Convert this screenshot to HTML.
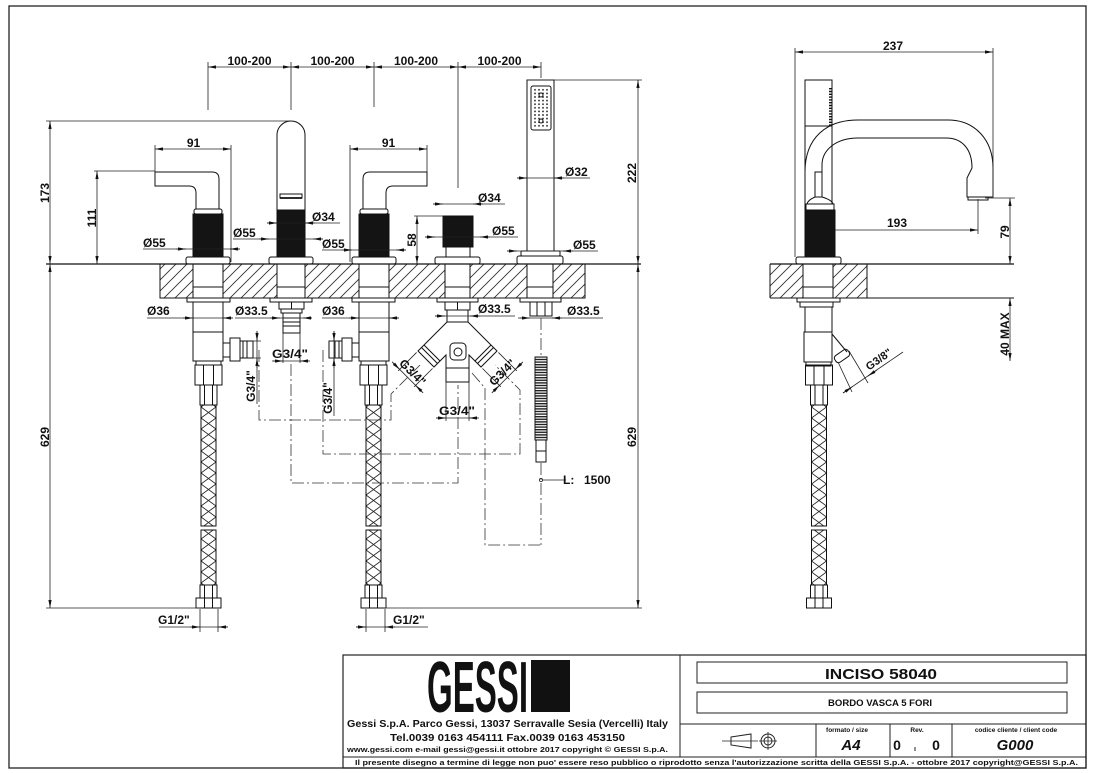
<!DOCTYPE html>
<html><head><meta charset="utf-8">
<style>
html,body{margin:0;padding:0;background:#fff;width:1097px;height:773px;overflow:hidden}
svg{display:block}
text{font-family:"Liberation Sans",Arial,sans-serif;font-weight:bold;fill:#111;stroke:none;font-size:12px}
.dd{marker-start:url(#ar);marker-end:url(#ar)}
.de{marker-end:url(#ar)}
</style></head><body>
<svg xmlns="http://www.w3.org/2000/svg" xmlns:xlink="http://www.w3.org/1999/xlink" width="1097" height="773" viewBox="0 0 1097 773">
<defs>
<marker id="ar" viewBox="0 0 8 4" refX="8" refY="2" markerWidth="8" markerHeight="4" markerUnits="userSpaceOnUse" orient="auto-start-reverse"><path d="M0,0.4L8,2L0,3.6Z" fill="#111" stroke="none"/></marker>
<pattern id="hatch" width="11" height="11" patternUnits="userSpaceOnUse"><path d="M-1,1L1,-1M0,11L11,0M10,12L12,10" stroke="#333" stroke-width="0.9" fill="none"/></pattern>
<pattern id="braid" x="-7.5" y="0" width="15" height="11" patternUnits="userSpaceOnUse"><path d="M0,0L15,11M15,0L0,11" stroke="#222" stroke-width="0.9" fill="none"/></pattern>
<pattern id="spiral" width="14" height="2.6" patternUnits="userSpaceOnUse"><rect width="14" height="1.4" fill="#222"/></pattern>
<pattern id="dots" x="533" y="88" width="4" height="3.6" patternUnits="userSpaceOnUse"><circle cx="2" cy="1.8" r="0.9" fill="#222"/></pattern>
<g id="hose" fill="none" stroke="#111" stroke-width="1">
 <rect x="-13.5" y="365" width="27" height="20"/>
 <path d="M-5,365V385M5,365V385"/>
 <rect x="-8.5" y="385" width="17" height="20"/>
 <path d="M-4,385V405M4,385V405"/>
 <rect x="-7.5" y="405" width="15" height="121" fill="url(#braid)"/>
 <rect x="-7.5" y="530" width="15" height="55" fill="url(#braid)"/>
 <rect x="-8.5" y="585" width="17" height="13"/>
 <path d="M-4,585V598M4,585V598"/>
 <rect x="-12.5" y="598" width="25" height="10"/>
 <path d="M-4,598V608M4,598V608"/>
</g>
<g id="mixB" fill="none" stroke="#111" stroke-width="1">
 <rect x="187" y="298" width="43" height="4"/>
 <rect x="193" y="302" width="30" height="59"/>
 <line x1="193" y1="332" x2="223" y2="332"/>
 <rect x="223" y="343" width="7" height="14"/>
 <rect x="230" y="338" width="10" height="23"/>
 <rect x="240" y="341" width="13" height="17"/>
 <path d="M243,341V358M247,341V358"/>
 <rect x="196" y="361" width="25" height="4"/>
 <use xlink:href="#hose" href="#hose" transform="translate(208.5,0)"/>
</g>
<g id="mixA" fill="none" stroke="#111" stroke-width="1">
 <path d="M155,172H212Q219,172 219,179V209H196V193Q196,186 189,186H155Z"/>
 <rect x="194" y="209" width="28" height="5" rx="2"/>
 <rect x="193" y="214" width="30" height="43" fill="#141414"/>
 <rect x="186" y="257" width="44" height="7" rx="2"/>
</g>
</defs>

<rect width="1097" height="773" fill="#fff"/>

<!-- frame -->
<rect x="9" y="6" width="1077" height="762" fill="none" stroke="#222" stroke-width="1.3"/>

<!-- decks -->
<rect x="160" y="264" width="425" height="34" fill="url(#hatch)"/>
<rect x="770" y="264" width="97" height="34" fill="url(#hatch)"/>
<g fill="#fff" stroke="none">
<rect x="193" y="264.5" width="30" height="33"/>
<rect x="277" y="264.5" width="28" height="33"/>
<rect x="359" y="264.5" width="30" height="33"/>
<rect x="445" y="264.5" width="25" height="33"/>
<rect x="527" y="264.5" width="26" height="33"/>
<rect x="803" y="264.5" width="30" height="33"/>
</g>

<g fill="none" stroke="#111" stroke-width="1">
<line x1="46" y1="264" x2="641" y2="264" stroke-width="1.2"/>
<path d="M160,264V298H585V264"/>
<path d="M193,264V298M223,264V298M193,287H223"/>
<path d="M277,264V298M305,264V298M277,287H305"/>
<path d="M359,264V298M389,264V298M359,287H389"/>
<path d="M445,264V298M470,264V298M445,287H470"/>
<path d="M527,264V298M553,264V298M527,287H553"/>
<line x1="770" y1="264" x2="1014" y2="264" stroke-width="1.2"/>
<line x1="770" y1="298" x2="1014" y2="298"/>
<path d="M770,264V298M867,264V298M803,264V298M833,264V298M803,287H833"/>

<!-- mixers above -->
<use xlink:href="#mixA" href="#mixA"/>
<use xlink:href="#mixA" href="#mixA" transform="matrix(-1,0,0,1,582,0)"/>
<!-- mixers below -->
<use xlink:href="#mixB" href="#mixB"/>
<use xlink:href="#mixB" href="#mixB" transform="matrix(-1,0,0,1,582,0)"/>

<!-- spout -->
<path d="M277,210V135A14,14 0 0 1 305,135V210"/>
<rect x="280" y="194" width="22" height="4"/>
<line x1="280" y1="198" x2="302" y2="198" stroke-width="1.8"/>
<rect x="277" y="210" width="28" height="47" fill="#141414"/>
<rect x="269" y="257" width="44" height="7" rx="2"/>
<rect x="270" y="298" width="42" height="4"/>
<rect x="279" y="302" width="25" height="7"/><line x1="291.5" y1="302" x2="291.5" y2="309"/>
<rect x="281" y="309" width="21" height="4"/>
<rect x="283" y="313" width="17" height="20"/>
<path d="M283,318H300M283,322H300M283,326H300"/>

<!-- diverter -->
<rect x="443" y="216" width="30" height="31" fill="#141414"/>
<rect x="446" y="247" width="24" height="10"/>
<rect x="435" y="257" width="45" height="7" rx="2"/>
<rect x="437" y="298" width="41" height="4"/>
<rect x="445" y="302" width="25" height="8"/><line x1="457.5" y1="302" x2="457.5" y2="310"/>
<rect x="447" y="310" width="21" height="12"/>
<path d="M447,322L418,351L434,367L446,355V382H469V355L481,367L497,351L468,322Z"/>
<line x1="446" y1="368" x2="469" y2="368"/>
<path d="M421.5,347.5L437.5,363.5M424,345L440,361"/>
<path d="M493.5,347.5L477.5,363.5M491,345L475,361"/>
<rect x="450" y="343" width="16" height="17" rx="4"/>
<circle cx="458" cy="352" r="4"/>

<!-- hand shower -->
<rect x="527" y="80" width="27" height="171"/>
<rect x="531" y="86" width="20" height="44" rx="2"/>
<rect x="533" y="88" width="16" height="40" fill="url(#dots)" stroke="none"/>
<circle cx="541" cy="95" r="2"/><circle cx="541" cy="121" r="2"/>
<rect x="521" y="251" width="39" height="5" rx="1"/>
<rect x="517" y="256" width="46" height="8" rx="2"/>
<rect x="520" y="298" width="41" height="4"/>
<rect x="530" y="302" width="22" height="14"/>
<path d="M537,302V316M545,302V316"/>
<rect x="535" y="357" width="12" height="83" fill="url(#spiral)"/>
<rect x="536" y="440" width="10" height="22"/>
<line x1="536" y1="451" x2="546" y2="451"/>

<!-- side view -->
<rect x="805" y="80" width="27" height="46"/>
<line x1="830.5" y1="88" x2="830.5" y2="126" stroke-width="3" stroke-dasharray="1.4 1.4"/>
<path d="M805,126V210"/>
<path d="M832,126V204"/>
<path d="M805,172C805,138 826,120 858,120H948C975,120 993,140 993,168V197H967V178L972,168C972,150 963,138 946,138H858C836,138 822,150 822,165V172"/>
<rect x="968" y="197" width="20" height="3"/>
<rect x="815" y="172" width="7" height="25"/>
<path d="M815,197Q808,200 807,204H833Q832,200 822,197"/>
<rect x="806" y="204" width="28" height="6"/>
<rect x="805" y="210" width="30" height="47" fill="#141414"/>
<rect x="796" y="257" width="45" height="7" rx="2"/>
<rect x="797" y="298" width="43" height="4"/>
<rect x="800" y="302" width="33" height="5"/>
<rect x="805" y="307" width="27" height="25"/>
<rect x="804" y="332" width="28" height="30"/>
<rect x="806" y="362" width="25" height="4"/>
<path d="M832,334L847,352"/>
<rect x="-8" y="-4" width="16" height="8" rx="3" transform="translate(842,356) rotate(-35)"/>
<use xlink:href="#hose" href="#hose" transform="translate(819,0)"/>
</g>

<!-- dimension lines -->
<g fill="none" stroke="#222" stroke-width="0.8">
<path d="M208,62V110M291,62V110M374,62V107M458,62V188M541,62V78"/>
<line class="dd" x1="208" y1="67" x2="291" y2="67"/>
<line class="dd" x1="291" y1="67" x2="374" y2="67"/>
<line class="dd" x1="374" y1="67" x2="458" y2="67"/>
<line class="dd" x1="458" y1="67" x2="541" y2="67"/>

<line x1="46" y1="121" x2="290" y2="121"/>
<line class="dd" x1="50" y1="121" x2="50" y2="264"/>
<line class="dd" x1="50" y1="264" x2="50" y2="608"/>
<line x1="46" y1="608" x2="200" y2="608"/>
<line x1="385" y1="608" x2="642" y2="608"/>
<line class="dd" x1="638" y1="264" x2="638" y2="608"/>
<line x1="527" y1="80" x2="642" y2="80"/>
<line class="dd" x1="638" y1="80" x2="638" y2="264"/>

<line x1="94" y1="171" x2="155" y2="171"/>
<line class="dd" x1="97" y1="171" x2="97" y2="264"/>
<path d="M155,145V172M231,145V262M350,145V262M427,145V172"/>
<line class="dd" x1="155" y1="149" x2="231" y2="149"/>
<line class="dd" x1="350" y1="149" x2="427" y2="149"/>
<line x1="414" y1="216" x2="443" y2="216"/>
<line class="dd" x1="417" y1="216" x2="417" y2="264"/>

<!-- diameter dims above deck -->
<line x1="143" y1="249" x2="240" y2="249"/><line class="de" x1="176" y1="249" x2="186" y2="249"/><line class="de" x1="240" y1="249" x2="230" y2="249"/>
<line x1="233" y1="239" x2="323" y2="239"/><line class="de" x1="259" y1="239" x2="269" y2="239"/><line class="de" x1="323" y1="239" x2="313" y2="239"/>
<line x1="267" y1="223" x2="340" y2="223"/><line class="de" x1="267" y1="223" x2="277" y2="223"/><line class="de" x1="315" y1="223" x2="305" y2="223"/>
<line x1="322" y1="250" x2="406" y2="250"/><line class="de" x1="342" y1="250" x2="352" y2="250"/><line class="de" x1="406" y1="250" x2="396" y2="250"/>
<line x1="433" y1="204" x2="505" y2="204"/><line class="de" x1="433" y1="204" x2="443" y2="204"/><line class="de" x1="483" y1="204" x2="473" y2="204"/>
<line x1="425" y1="237" x2="518" y2="237"/><line class="de" x1="425" y1="237" x2="435" y2="237"/><line class="de" x1="490" y1="237" x2="480" y2="237"/>
<line x1="517" y1="178" x2="590" y2="178"/><line class="de" x1="517" y1="178" x2="527" y2="178"/><line class="de" x1="564" y1="178" x2="554" y2="178"/>
<line x1="507" y1="251" x2="598" y2="251"/><line class="de" x1="507" y1="251" x2="517" y2="251"/><line class="de" x1="573" y1="251" x2="563" y2="251"/>

<!-- diameter dims below deck -->
<line x1="147" y1="318" x2="233" y2="318"/><line class="de" x1="183" y1="318" x2="193" y2="318"/><line class="de" x1="233" y1="318" x2="223" y2="318"/>
<line x1="235" y1="318" x2="312" y2="318"/><line class="de" x1="270" y1="318" x2="280" y2="318"/><line class="de" x1="312" y1="318" x2="303" y2="318"/>
<line x1="322" y1="318" x2="399" y2="318"/><line class="de" x1="349" y1="318" x2="359" y2="318"/><line class="de" x1="399" y1="318" x2="389" y2="318"/>
<line x1="435" y1="316" x2="515" y2="316"/><line class="de" x1="435" y1="316" x2="445" y2="316"/><line class="de" x1="480" y1="316" x2="470" y2="316"/>
<line x1="518" y1="318" x2="603" y2="318"/><line class="de" x1="520" y1="318" x2="530" y2="318"/><line class="de" x1="562" y1="318" x2="552" y2="318"/>

<!-- G3/4 dims -->
<path d="M283,333V363M300,333V363"/>
<line x1="272" y1="361" x2="308" y2="361"/><line class="de" x1="273" y1="361" x2="283" y2="361"/><line class="de" x1="310" y1="361" x2="300" y2="361"/>
<path d="M253,341H261M253,358H261"/>
<line x1="257" y1="331" x2="257" y2="404"/><line class="de" x1="257" y1="331" x2="257" y2="341"/><line class="de" x1="257" y1="368" x2="257" y2="358"/>
<path d="M329,341H337M329,358H337"/>
<line x1="334" y1="331" x2="334" y2="416"/><line class="de" x1="334" y1="331" x2="334" y2="341"/><line class="de" x1="334" y1="368" x2="334" y2="358"/>
<path d="M446,382V421M469,382V421"/>
<line x1="436" y1="418" x2="477" y2="418"/><line class="de" x1="436" y1="418" x2="446" y2="418"/><line class="de" x1="479" y1="418" x2="469" y2="418"/>
<g transform="translate(426,359) rotate(45)">
 <path d="M-11.3,2V28M11.3,2V28"/>
 <line x1="-22" y1="26" x2="22" y2="26"/>
 <line class="de" x1="-21" y1="26" x2="-11.3" y2="26"/><line class="de" x1="21" y1="26" x2="11.3" y2="26"/>
</g>
<g transform="translate(489,359) rotate(-45)">
 <path d="M-11.3,2V28M11.3,2V28"/>
 <line x1="-22" y1="26" x2="22" y2="26"/>
 <line class="de" x1="-21" y1="26" x2="-11.3" y2="26"/><line class="de" x1="21" y1="26" x2="11.3" y2="26"/>
</g>

<!-- G1/2 -->
<path d="M200,609V632M218,609V632M366,609V632M385,609V632"/>
<line x1="159" y1="627" x2="228" y2="627"/><line class="de" x1="190" y1="627" x2="200" y2="627"/><line class="de" x1="228" y1="627" x2="218" y2="627"/>
<line x1="356" y1="627" x2="428" y2="627"/><line class="de" x1="356" y1="627" x2="366" y2="627"/><line class="de" x1="395" y1="627" x2="385" y2="627"/>

<!-- L 1500 -->
<circle cx="541" cy="480" r="1.6"/>
<line x1="543" y1="480" x2="566" y2="480"/>

<!-- side view dims -->
<path d="M795,48V257M993,48V197"/>
<line class="dd" x1="795" y1="52" x2="993" y2="52"/>
<line class="de" x1="835" y1="230" x2="978" y2="230"/>
<line x1="978" y1="199" x2="978" y2="234"/>
<line x1="985" y1="198" x2="1015" y2="198"/>
<line class="dd" x1="1010" y1="198" x2="1010" y2="264"/>
<line class="dd" x1="1010" y1="361" x2="1010" y2="298"/>
<path d="M838,362L852,392M849,351L868,383"/>
<line x1="843" y1="393" x2="903" y2="352"/>
<line class="de" x1="843" y1="393" x2="852" y2="387"/><line class="de" x1="877" y1="370" x2="868" y2="376"/>
</g>

<!-- dash-dot lines -->
<g fill="none" stroke="#333" stroke-width="0.8" stroke-dasharray="12 3 2 3">
<path d="M259,350V420H391V394L420,365"/>
<path d="M291,364V483H458V385"/>
<path d="M323,350V454H520V390L495,365"/>
<path d="M472,373L485,388V545H541"/>
<path d="M541,318V357"/>
<path d="M541,463V545"/>
</g>

<!-- texts -->
<text x="249.5" y="65" text-anchor="middle">100-200</text>
<text x="332.5" y="65" text-anchor="middle">100-200</text>
<text x="416" y="65" text-anchor="middle">100-200</text>
<text x="499.5" y="65" text-anchor="middle">100-200</text>
<text x="193.5" y="147" text-anchor="middle">91</text>
<text x="388.5" y="147" text-anchor="middle">91</text>
<text x="143" y="247">Ø55</text>
<text x="233" y="237">Ø55</text>
<text x="312" y="221">Ø34</text>
<text x="322" y="248">Ø55</text>
<text x="478" y="202">Ø34</text>
<text x="492" y="235">Ø55</text>
<text x="565" y="176">Ø32</text>
<text x="573" y="249">Ø55</text>
<text x="147" y="315">Ø36</text>
<text x="235" y="315">Ø33.5</text>
<text x="322" y="315">Ø36</text>
<text x="478" y="313">Ø33.5</text>
<text x="567" y="315">Ø33.5</text>
<text x="272" y="358" textLength="36" lengthAdjust="spacingAndGlyphs">G3/4"</text>
<text x="439" y="415" textLength="36" lengthAdjust="spacingAndGlyphs">G3/4"</text>
<text x="158" y="624">G1/2"</text>
<text x="393" y="624">G1/2"</text>
<text x="563" y="484">L:</text>
<text x="584" y="484">1500</text>
<text x="893" y="50" text-anchor="middle">237</text>
<text x="897" y="227" text-anchor="middle">193</text>

<text transform="translate(49,193) rotate(-90)" text-anchor="middle">173</text>
<text transform="translate(96,218) rotate(-90)" text-anchor="middle">111</text>
<text transform="translate(49,437) rotate(-90)" text-anchor="middle">629</text>
<text transform="translate(636,437) rotate(-90)" text-anchor="middle">629</text>
<text transform="translate(636,173) rotate(-90)" text-anchor="middle">222</text>
<text transform="translate(416,240) rotate(-90)" text-anchor="middle">58</text>
<text transform="translate(1009,232) rotate(-90)" text-anchor="middle">79</text>
<text transform="translate(1009,334) rotate(-90)" text-anchor="middle">40  MAX</text>
<text transform="translate(255,386) rotate(-90)" text-anchor="middle">G3/4"</text>
<text transform="translate(332,398) rotate(-90)" text-anchor="middle">G3/4"</text>
<text transform="translate(426,359) rotate(45)" x="0" y="23" text-anchor="middle">G3/4"</text>
<text transform="translate(489,359) rotate(-45)" x="0" y="23" text-anchor="middle">G3/4"</text>
<text transform="translate(882,364) rotate(-35)" x="0" y="-2" text-anchor="middle" style="font-size:11px">G3/8"</text>

<!-- title block -->
<g fill="none" stroke="#222" stroke-width="1">
<rect x="343" y="655" width="743" height="113" stroke-width="1.2"/>
<line x1="680" y1="655" x2="680" y2="757"/>
<line x1="343" y1="757" x2="1086" y2="757"/>
<rect x="697" y="662" width="370" height="21"/>
<rect x="697" y="692" width="370" height="21"/>
<line x1="680" y1="724" x2="1086" y2="724"/>
<path d="M816,724V757M890,724V757M952,724V757"/>
<line x1="722" y1="741" x2="758" y2="741" stroke-width="0.8"/>
<path d="M731,737L751,734V748L731,745Z"/>
<circle cx="768" cy="741" r="7"/>
<circle cx="768" cy="741" r="4"/>
<path d="M759,741H777M768,732V750" stroke-width="0.8"/>
<line x1="915" y1="747" x2="915" y2="751"/>
</g>
<text x="427" y="712" textLength="101" lengthAdjust="spacingAndGlyphs" style="font-size:72px">GESSI</text>
<rect x="531" y="660" width="39" height="52" fill="#111"/>
<text x="347" y="727" textLength="321" lengthAdjust="spacingAndGlyphs" style="font-size:10.5px">Gessi S.p.A. Parco Gessi, 13037 Serravalle Sesia (Vercelli) Italy</text>
<text x="390" y="741" textLength="235" lengthAdjust="spacingAndGlyphs" style="font-size:10.5px">Tel.0039 0163 454111 Fax.0039 0163 453150</text>
<text x="347" y="752" textLength="321" lengthAdjust="spacingAndGlyphs" style="font-size:7px">www.gessi.com e-mail gessi@gessi.it ottobre 2017 copyright © GESSI S.p.A.</text>
<text x="355" y="765" textLength="723" lengthAdjust="spacingAndGlyphs" style="font-size:7px">Il presente disegno a termine di legge non puo' essere reso pubblico o riprodotto senza l'autorizzazione scritta della GESSI S.p.A. - ottobre 2017 copyright@GESSI S.p.A.</text>
<text x="825" y="679" textLength="112" lengthAdjust="spacingAndGlyphs" style="font-size:15px">INCISO 58040</text>
<text x="828" y="706" textLength="104" lengthAdjust="spacingAndGlyphs" style="font-size:9px">BORDO VASCA 5 FORI</text>
<text x="847" y="732" text-anchor="middle" style="font-size:6.5px">formato / size</text>
<text x="851" y="750" text-anchor="middle" style="font-size:15px;font-style:italic">A4</text>
<text x="917" y="732" text-anchor="middle" style="font-size:6.5px">Rev.</text>
<text x="897" y="750" text-anchor="middle" style="font-size:14px">0</text>
<text x="936" y="750" text-anchor="middle" style="font-size:14px">0</text>
<text x="1016" y="732" text-anchor="middle" style="font-size:6.5px">codice cliente / client code</text>
<text x="1015" y="750" text-anchor="middle" style="font-size:15px;font-style:italic">G000</text>
</svg>
</body></html>
